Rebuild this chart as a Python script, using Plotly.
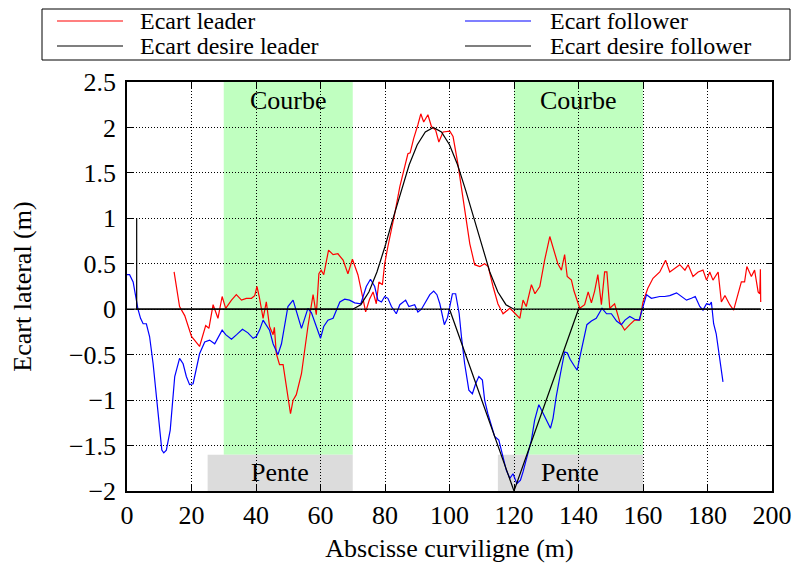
import plotly.graph_objects as go

# ---- measured lateral offsets (m) along the curvilinear abscissa (m) ----
leader_s = [14.6, 16.3, 17.9, 20.0, 22.5, 24.4, 25.4, 26.7, 28.2, 29.5, 30.6, 32.4, 33.9, 35.5,
            37.0, 38.6, 39.6, 40.3, 41.0, 42.2, 43.2, 44.2, 45.3, 45.7, 46.3, 47.3, 48.4, 49.4,
            50.7, 51.5, 52.5, 54.1, 55.1, 56.1, 57.7, 58.7, 59.5, 60.2, 61.0, 62.5, 63.9, 65.4,
            67.0, 68.5, 69.9, 71.6, 73.2, 74.0, 75.2, 76.3, 77.3, 78.1, 79.2, 79.9, 80.9, 82.0,
            83.0, 84.6, 85.6, 87.1, 87.8, 88.9, 90.2, 91.1, 92.0, 93.3, 94.4, 95.7, 96.7, 98.0,
            100.1, 101.1, 102.6, 103.7, 104.7, 106.3, 107.8, 109.4, 110.9, 112.0, 113.5, 115.0,
            116.6, 118.7, 119.6, 121.8, 122.8, 123.8, 125.4, 126.5, 128.0, 129.5, 131.1, 132.1,
            133.6, 134.7, 135.7, 136.5, 137.8, 138.6, 140.4, 141.9, 143.0, 144.0, 145.0, 146.0,
            147.1, 148.1, 148.8, 149.7, 151.2, 152.8, 154.3, 155.9, 157.4, 159.0, 160.0, 161.5,
            163.1, 165.2, 167.0, 168.3, 169.8, 171.4, 173.0, 174.0, 175.5, 177.1, 178.6, 179.7,
            180.7, 181.7, 183.3, 184.3, 185.4, 186.9, 188.1, 189.5, 190.5, 191.5, 192.2, 193.6,
            194.6, 195.7, 196.2, 196.4, 196.5]
leader_e = [0.41, 0.03, -0.07, -0.30, -0.41, -0.18, -0.21, 0.05, -0.10, 0.14, 0.01, 0.10, 0.16, 0.10,
            0.12, 0.12, 0.15, 0.25, 0.14, -0.10, 0.08, -0.19, -0.28, -0.20, -0.49, -0.61, -0.61, -0.85,
            -1.15, -1.00, -0.94, -0.71, -0.45, -0.19, 0.16, -0.06, 0.39, 0.43, 0.38, 0.65, 0.60, 0.61,
            0.54, 0.39, 0.55, 0.38, 0.11, -0.03, 0.11, 0.19, 0.06, 0.30, 0.27, 0.50, 0.69, 0.87,
            1.05, 1.35, 1.49, 1.71, 1.72, 1.88, 2.03, 2.15, 2.06, 2.14, 2.01, 1.97, 1.84, 1.95,
            1.96, 1.90, 1.60, 1.35, 1.09, 0.72, 0.49, 0.47, 0.50, 0.47, 0.25, 0.06,
            -0.05, 0.01, -0.02, -0.10, 0.10, 0.03, 0.27, 0.17, 0.25, 0.54, 0.80, 0.69,
            0.50, 0.43, 0.60, 0.36, 0.32, 0.20, 0.01, 0.05, 0.19, 0.07, 0.20, 0.38,
            0.05, 0.41, 0.41, 0.01, 0.06, -0.14, -0.23, -0.17, -0.12, -0.12, 0.08, 0.23,
            0.34, 0.41, 0.54, 0.41, 0.45, 0.49, 0.43, 0.49, 0.36, 0.41, 0.43, 0.32,
            0.41, 0.32, 0.41, 0.08, 0.15, 0.05, -0.01, 0.17, 0.30, 0.30, 0.47, 0.36,
            0.43, 0.19, 0.17, 0.44, 0.08]

follower_s = [0.0, 0.8, 1.9, 2.9, 3.4, 4.2, 5.0, 6.0, 7.0, 8.1, 9.1, 9.9, 10.8, 11.4, 12.2, 13.4,
              14.8, 16.3, 17.4, 18.4, 19.4, 20.5, 21.5, 22.5, 24.1, 25.6, 27.2, 28.5, 29.5, 30.6,
              32.4, 34.0, 35.8, 37.5, 39.1, 40.1, 41.1, 42.2, 43.2, 44.2, 45.3, 46.8, 47.9, 48.9,
              49.9, 51.5, 52.5, 54.1, 55.1, 56.1, 57.2, 58.7, 60.0, 61.0, 62.3, 63.9, 66.0, 67.5,
              69.0, 70.6, 72.5, 74.2, 75.5, 76.8, 77.8, 78.9, 79.9, 80.9, 82.0, 83.5, 84.6, 86.4,
              87.4, 89.2, 90.2, 91.3, 92.3, 93.9, 95.1, 96.1, 97.0, 98.4, 99.4, 100.9, 101.9, 103.0,
              103.7, 104.7, 106.0, 107.1, 108.1, 109.1, 110.2, 110.9, 111.9, 113.0, 114.0, 115.3,
              116.4, 117.6, 118.7, 119.7, 120.9, 122.0, 122.8, 124.0, 125.4, 126.4, 127.7, 128.4,
              130.0, 131.3, 132.1, 133.1, 134.4, 135.7, 136.5, 137.4, 138.8, 139.6, 140.4, 141.4,
              142.6, 144.0, 145.5, 147.3, 148.7, 150.2, 151.8, 153.3, 154.4, 155.9, 157.4, 158.8,
              159.8, 161.1, 162.6, 165.2, 166.7, 168.3, 170.4, 171.9, 173.5, 175.0, 176.2, 177.6,
              178.6, 179.7, 180.7, 181.2, 181.9, 182.7, 183.6, 184.3, 184.8]
follower_e = [0.38, 0.38, 0.30, 0.10, 0.00, -0.10, -0.16, -0.16, -0.30, -0.60, -0.96, -1.29, -1.55, -1.58, -1.55, -1.33,
              -0.74, -0.54, -0.60, -0.74, -0.83, -0.82, -0.67, -0.49, -0.36, -0.34, -0.38, -0.30, -0.23, -0.28,
              -0.33, -0.28, -0.22, -0.26, -0.32, -0.30, -0.23, -0.12, -0.17, -0.23, -0.38, -0.50, -0.38, -0.16,
              0.03, 0.10, -0.03, -0.21, -0.10, 0.01, -0.04, -0.19, -0.32, -0.19, -0.12, -0.10, 0.08, 0.11,
              0.10, 0.07, 0.06, 0.25, 0.33, 0.25, 0.10, 0.08, 0.14, 0.12, 0.03, -0.05, 0.05, 0.10,
              0.03, 0.05, -0.03, 0.00, 0.06, 0.16, 0.20, 0.16, 0.06, -0.17, -0.09, 0.17, 0.17, -0.05,
              -0.30, -0.60, -0.89, -0.93, -0.82, -0.74, -0.78, -1.00, -1.15, -1.29, -1.40, -1.44,
              -1.60, -1.77, -1.86, -1.81, -1.92, -1.88, -1.79, -1.62, -1.44, -1.22, -1.05, -1.10,
              -1.22, -1.31, -1.20, -0.96, -0.71, -0.47, -0.48, -0.55, -0.63, -0.67, -0.53, -0.35,
              -0.17, -0.13, -0.10, 0.01, -0.05, -0.05, -0.13, -0.17, -0.12, -0.08, -0.11, -0.12,
              0.00, 0.16, 0.12, 0.14, 0.14, 0.15, 0.18, 0.14, 0.10, 0.12, 0.14, 0.03,
              -0.01, 0.06, 0.05, 0.08, -0.16, -0.27, -0.49, -0.67, -0.80]

# reference (desired) offsets
desired_leader_s = [0, 70, 72.5, 75, 77.5, 80, 82.5, 85, 87.5, 90, 92.5, 95, 97.5, 100, 102.5,
                    105, 107.5, 110, 112.5, 115, 117.5, 120, 196.5]
desired_leader_e = [0, 0, 0.05, 0.19, 0.41, 0.69, 1.0, 1.31, 1.59, 1.81, 1.95, 2.0, 1.95, 1.81, 1.59,
                    1.31, 1.0, 0.69, 0.41, 0.19, 0.05, 0, 0]
desired_follower_s = [3, 3, 100, 120, 140, 196.5]
desired_follower_e = [1, 0, 0, -2, 0, 0]

# road sections
bend_zones = [(30, 70), (120, 160)]
slope_zones = [(25, 70), (115, 160)]
bend_label = "Courbe"
slope_label = "Pente"

series_names = ["Ecart leader", "Ecart follower", "Ecart desire leader", "Ecart desire follower"]
series_colors = ["#ff0000", "#0000ff", "#000000", "#000000"]

x_ticks = list(range(0, 201, 20))
y_ticks = [-2, -1.5, -1, -0.5, 0, 0.5, 1, 1.5, 2, 2.5]

FONT = "Liberation Serif"
FS = 26
LEG_FS = 24

# plot area geometry (pixels)
W, H = 792, 567
L, R, T, B = 127, 20, 82, 76
PW, PH = W - L - R, H - T - B


def px(xp):
    return (xp - L) / PW


def py(yp):
    return (H - B - yp) / PH


fig = go.Figure()

for (s, e), name, col in zip(
        [(leader_s, leader_e), (follower_s, follower_e),
         (desired_leader_s, desired_leader_e), (desired_follower_s, desired_follower_e)],
        series_names, series_colors):
    fig.add_trace(go.Scatter(x=s, y=e, mode="lines", name=name, showlegend=False,
                             line=dict(color=col, width=1.2)))

shapes = []
for x0, x1 in bend_zones:
    shapes.append(dict(type="rect", xref="x", yref="y", x0=x0, x1=x1, y0=-1.6, y1=2.5,
                       fillcolor="#c0ffc0", line_width=0, layer="below"))
for x0, x1 in slope_zones:
    shapes.append(dict(type="rect", xref="x", yref="y", x0=x0, x1=x1, y0=-2, y1=-1.6,
                       fillcolor="#dcdcdc", line_width=0, layer="below"))

annotations = []
for x0, x1 in bend_zones:
    annotations.append(dict(x=(x0 + x1) / 2, y=2.3, xref="x", yref="y", text=bend_label,
                            showarrow=False, font=dict(family=FONT, size=FS, color="black")))
for x0, x1 in slope_zones:
    annotations.append(dict(x=(x0 + x1) / 2, y=-1.8, xref="x", yref="y", text=slope_label,
                            showarrow=False, font=dict(family=FONT, size=FS, color="black")))

# legend box drawn in page space
shapes.append(dict(type="rect", xref="paper", yref="paper", x0=px(42), x1=px(790),
                   y0=py(60), y1=py(9), line=dict(color="black", width=1), fillcolor="white"))
legend_pos = [(57, 123, 138, 21), (465, 531, 548, 21), (57, 123, 138, 46), (465, 531, 548, 46)]
for name, col, (lx0, lx1, tx, ly) in zip(series_names, series_colors, legend_pos):
    shapes.append(dict(type="line", xref="paper", yref="paper", x0=px(lx0), x1=px(lx1),
                       y0=py(ly), y1=py(ly), line=dict(color=col, width=1.2)))
    annotations.append(dict(x=px(tx), y=py(ly), xref="paper", yref="paper", text=name,
                            xanchor="left", yanchor="middle", showarrow=False,
                            font=dict(family=FONT, size=LEG_FS, color="black")))

axis_common = dict(showline=True, linecolor="black", linewidth=1.5, mirror="ticks",
                   ticks="inside", ticklen=6, tickcolor="black", tickwidth=1,
                   showgrid=True, gridcolor="black", gridwidth=1, griddash="1px,2px",
                   zeroline=False, automargin=False,
                   tickfont=dict(family=FONT, size=FS, color="black"))

fig.update_layout(
    width=W, height=H, margin=dict(l=L, r=R, t=T, b=B, pad=0, autoexpand=False),
    paper_bgcolor="white", plot_bgcolor="white",
    shapes=shapes, annotations=annotations, showlegend=False,
    xaxis=dict(range=[0, 200], tickvals=x_ticks, **axis_common,
               title=dict(text="Abscisse curviligne (m)", standoff=10,
                          font=dict(family=FONT, size=FS, color="black"))),
    yaxis=dict(range=[-2, 2.5], tickvals=y_ticks, ticklabelstandoff=4, **axis_common,
               title=dict(text="Ecart lateral (m)", standoff=30,
                          font=dict(family=FONT, size=FS, color="black"))),
)

fig.write_html("out.html")
